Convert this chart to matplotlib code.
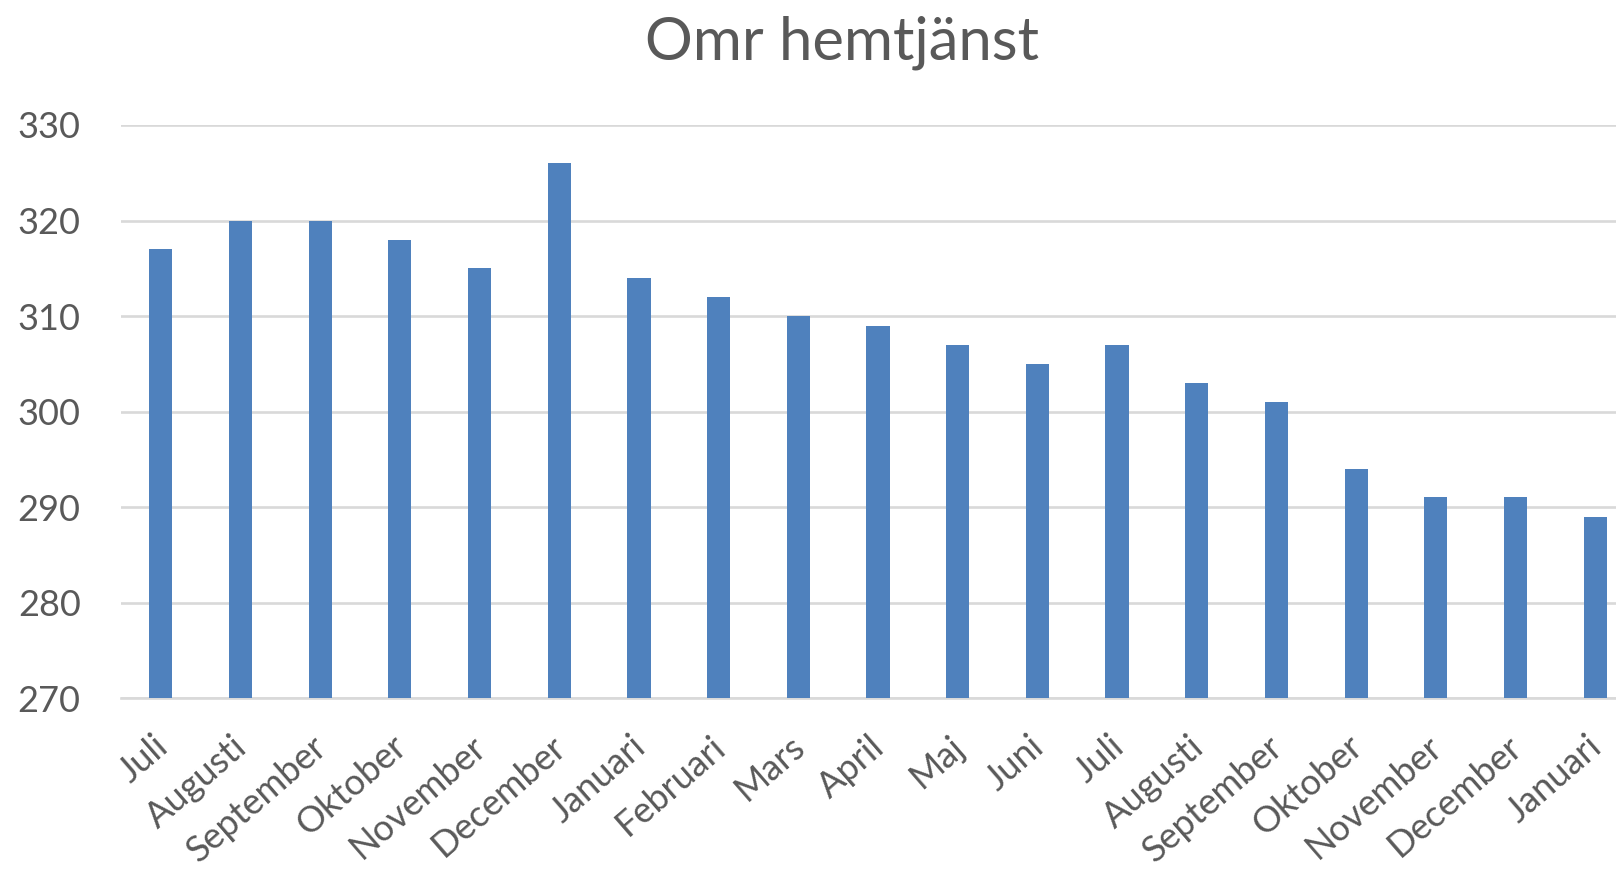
import matplotlib
matplotlib.use("Agg")
import matplotlib.pyplot as plt
from matplotlib.transforms import ScaledTranslation

months = ["Juli", "Augusti", "September", "Oktober", "November", "December",
          "Januari", "Februari", "Mars", "April", "Maj", "Juni", "Juli",
          "Augusti", "September", "Oktober", "November", "December", "Januari"]
values = [317, 320, 320, 318, 315, 326, 314, 312, 310, 309, 307, 305, 307,
          303, 301, 294, 291, 291, 289]
yticks = [270, 280, 290, 300, 310, 320, 330]
title = "Omr hemtjänst"

text_color = "#595959"
bar_color = "#4F81BD"
grid_color = "#D9D9D9"

plt.rcParams["font.family"] = ["Lato", "DejaVu Sans"]

W, H = 1616, 871
fig = plt.figure(figsize=(W / 100, H / 100), dpi=100)
fig.patch.set_facecolor("white")

# plot area in pixel coordinates (the right end runs past the canvas)
left_px, right_px = 121, 1635
top_px, bottom_px = 125, 698
ax = fig.add_axes([left_px / W, 1 - bottom_px / H,
                   (right_px - left_px) / W, (bottom_px - top_px) / H])

x = list(range(len(months)))
ax.bar(x, values, width=0.29, color=bar_color, zorder=3)

ax.set_xlim(-0.5, len(months) - 0.5)
ax.set_ylim(yticks[0], yticks[-1])
ax.set_yticks(yticks)
ax.set_yticklabels([str(v) for v in yticks])
ax.yaxis.grid(True, color=grid_color, linewidth=1.9, zorder=0)
ax.set_axisbelow(True)

for side in ["top", "right", "left"]:
    ax.spines[side].set_visible(False)
ax.spines["bottom"].set_color(grid_color)
ax.spines["bottom"].set_linewidth(1.9)

ax.tick_params(axis="y", length=0, pad=29, labelsize=26, labelcolor=text_color)
ax.tick_params(axis="x", length=0, pad=0, labelsize=26, labelcolor=text_color)

ax.set_xticks(x)
ax.set_xticklabels(months, rotation=41, ha="right", va="center",
                   rotation_mode="anchor")
offset = ScaledTranslation(2 / 100, -44 / 100, fig.dpi_scale_trans)
for lbl in ax.get_xticklabels():
    lbl.set_transform(lbl.get_transform() + offset)

fig.text(842 / W, 1 - 43 / H, title, ha="center", va="center",
         fontsize=43, color=text_color)

fig.savefig("out.png", dpi=100, facecolor="white")
